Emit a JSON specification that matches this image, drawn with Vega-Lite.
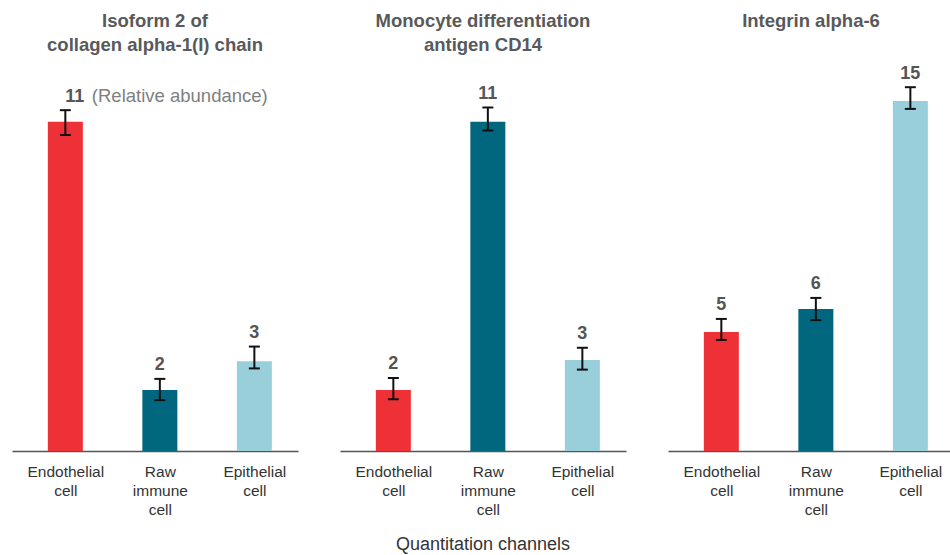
{
  "$schema": "https://vega.github.io/schema/vega-lite/v6.json",
  "padding": {"left": 12, "top": 11, "right": 0, "bottom": 0},
  "config": {
    "view": {"stroke": null},
    "font": "Liberation Sans",
    "concat": {"spacing": 42},
    "axisX": {
      "domain": true, "domainColor": "#555555", "domainWidth": 1.5,
      "ticks": false, "grid": false, "labelAngle": 0,
      "labelFontSize": 15.5, "labelColor": "#333333", "labelLineHeight": 19,
      "labelPadding": 13, "labelExpr": "split(datum.value, ' ')", "title": null
    }
  },
  "title": {"text": "Quantitation channels", "orient": "bottom", "anchor": "middle", "fontSize": 18, "fontWeight": "normal", "color": "#333333", "offset": 18},
  "datasets": {
    "d": [
      {"protein": "p1", "channel": "Endothelial cell", "value": 11.0, "lo": 10.56, "hi": 11.39, "note": "(Relative abundance)"},
      {"protein": "p1", "channel": "Raw immune cell", "value": 2.04, "lo": 1.70, "hi": 2.41, "note": ""},
      {"protein": "p1", "channel": "Epithelial cell", "value": 3.0, "lo": 2.76, "hi": 3.49, "note": ""},
      {"protein": "p2", "channel": "Endothelial cell", "value": 2.04, "lo": 1.73, "hi": 2.44, "note": ""},
      {"protein": "p2", "channel": "Raw immune cell", "value": 11.0, "lo": 10.71, "hi": 11.48, "note": ""},
      {"protein": "p2", "channel": "Epithelial cell", "value": 3.04, "lo": 2.72, "hi": 3.45, "note": ""},
      {"protein": "p3", "channel": "Endothelial cell", "value": 5.1, "lo": 4.76, "hi": 5.66, "note": ""},
      {"protein": "p3", "channel": "Raw immune cell", "value": 6.09, "lo": 5.61, "hi": 6.56, "note": ""},
      {"protein": "p3", "channel": "Epithelial cell", "value": 15.0, "lo": 14.66, "hi": 15.59, "note": ""}
    ]
  },
  "hconcat": [
    {
      "width": 286, "height": 389,
      "data": {"name": "d"},
      "transform": [{"filter": "datum.protein === 'p1'"}],
      "title": {"text": ["Isoform 2 of", "collagen alpha-1(I) chain"], "fontSize": 18.5, "fontWeight": "bold", "color": "#58595b", "lineHeight": 24, "offset": 8},
      "encoding": {
        "x": {"field": "channel", "type": "nominal", "sort": ["Endothelial cell", "Raw immune cell", "Epithelial cell"], "scale": {"type": "point", "padding": 0.513, "align": 0.55}}
      },
      "layer": [
        {"mark": {"type": "bar", "size": 35},
         "encoding": {
           "y": {"field": "value", "type": "quantitative", "scale": {"domain": [0, 13], "nice": false}, "axis": null},
           "color": {"field": "channel", "type": "nominal", "scale": {"domain": ["Endothelial cell", "Raw immune cell", "Epithelial cell"], "range": ["#ee3136", "#00677f", "#99cfdb"]}, "legend": null}}},
        {"mark": {"type": "rule", "strokeWidth": 2, "color": "#111111"},
         "encoding": {"y": {"field": "lo", "type": "quantitative"}, "y2": {"field": "hi"}}},
        {"mark": {"type": "tick", "size": 11, "thickness": 2, "color": "#111111", "opacity": 1},
         "encoding": {"y": {"field": "lo", "type": "quantitative"}}},
        {"mark": {"type": "tick", "size": 11, "thickness": 2, "color": "#111111", "opacity": 1},
         "encoding": {"y": {"field": "hi", "type": "quantitative"}}},
        {"transform": [{"filter": "datum.note === ''"}],
         "mark": {"type": "text", "baseline": "alphabetic", "dy": -8.5, "fontSize": 18, "fontWeight": "bold", "color": "#555555"},
         "encoding": {"y": {"field": "hi", "type": "quantitative"}, "text": {"field": "value", "format": ".0f"}}},
        {"transform": [{"filter": "datum.note !== ''"}],
         "mark": {"type": "text", "baseline": "alphabetic", "align": "left", "dy": -8.5, "fontSize": 18, "fontWeight": "bold", "color": "#555555"},
         "encoding": {"y": {"field": "hi", "type": "quantitative"}, "text": {"field": "value", "format": ".0f"}}},
        {"transform": [{"filter": "datum.note !== ''"}],
         "mark": {"type": "text", "baseline": "alphabetic", "align": "left", "dx": 26.5, "dy": -8.5, "fontSize": 18.5, "fontWeight": "normal", "color": "#808080"},
         "encoding": {"y": {"field": "hi", "type": "quantitative"}, "text": {"field": "note"}}}
      ]
    },
    {
      "width": 286, "height": 389,
      "data": {"name": "d"},
      "transform": [{"filter": "datum.protein === 'p2'"}],
      "title": {"text": ["Monocyte differentiation", "antigen CD14"], "fontSize": 18.5, "fontWeight": "bold", "color": "#58595b", "lineHeight": 24, "offset": 8},
      "encoding": {
        "x": {"field": "channel", "type": "nominal", "sort": ["Endothelial cell", "Raw immune cell", "Epithelial cell"], "scale": {"type": "point", "padding": 0.513, "align": 0.55}}
      },
      "layer": [
        {"mark": {"type": "bar", "size": 35},
         "encoding": {
           "y": {"field": "value", "type": "quantitative", "scale": {"domain": [0, 13], "nice": false}, "axis": null},
           "color": {"field": "channel", "type": "nominal", "scale": {"domain": ["Endothelial cell", "Raw immune cell", "Epithelial cell"], "range": ["#ee3136", "#00677f", "#99cfdb"]}, "legend": null}}},
        {"mark": {"type": "rule", "strokeWidth": 2, "color": "#111111"},
         "encoding": {"y": {"field": "lo", "type": "quantitative"}, "y2": {"field": "hi"}}},
        {"mark": {"type": "tick", "size": 11, "thickness": 2, "color": "#111111", "opacity": 1},
         "encoding": {"y": {"field": "lo", "type": "quantitative"}}},
        {"mark": {"type": "tick", "size": 11, "thickness": 2, "color": "#111111", "opacity": 1},
         "encoding": {"y": {"field": "hi", "type": "quantitative"}}},
        {"mark": {"type": "text", "baseline": "alphabetic", "dy": -8.5, "fontSize": 18, "fontWeight": "bold", "color": "#555555"},
         "encoding": {"y": {"field": "hi", "type": "quantitative"}, "text": {"field": "value", "format": ".0f"}}}
      ]
    },
    {
      "width": 286, "height": 389,
      "data": {"name": "d"},
      "transform": [{"filter": "datum.protein === 'p3'"}],
      "title": {"text": "Integrin alpha-6", "fontSize": 18.5, "fontWeight": "bold", "color": "#58595b", "lineHeight": 24, "offset": 32},
      "encoding": {
        "x": {"field": "channel", "type": "nominal", "sort": ["Endothelial cell", "Raw immune cell", "Epithelial cell"], "scale": {"type": "point", "padding": 0.513, "align": 0.55}}
      },
      "layer": [
        {"mark": {"type": "bar", "size": 35},
         "encoding": {
           "y": {"field": "value", "type": "quantitative", "scale": {"domain": [0, 16.67], "nice": false}, "axis": null},
           "color": {"field": "channel", "type": "nominal", "scale": {"domain": ["Endothelial cell", "Raw immune cell", "Epithelial cell"], "range": ["#ee3136", "#00677f", "#99cfdb"]}, "legend": null}}},
        {"mark": {"type": "rule", "strokeWidth": 2, "color": "#111111"},
         "encoding": {"y": {"field": "lo", "type": "quantitative"}, "y2": {"field": "hi"}}},
        {"mark": {"type": "tick", "size": 11, "thickness": 2, "color": "#111111", "opacity": 1},
         "encoding": {"y": {"field": "lo", "type": "quantitative"}}},
        {"mark": {"type": "tick", "size": 11, "thickness": 2, "color": "#111111", "opacity": 1},
         "encoding": {"y": {"field": "hi", "type": "quantitative"}}},
        {"mark": {"type": "text", "baseline": "alphabetic", "dy": -8.5, "fontSize": 18, "fontWeight": "bold", "color": "#555555"},
         "encoding": {"y": {"field": "hi", "type": "quantitative"}, "text": {"field": "value", "format": ".0f"}}}
      ]
    }
  ]
}
